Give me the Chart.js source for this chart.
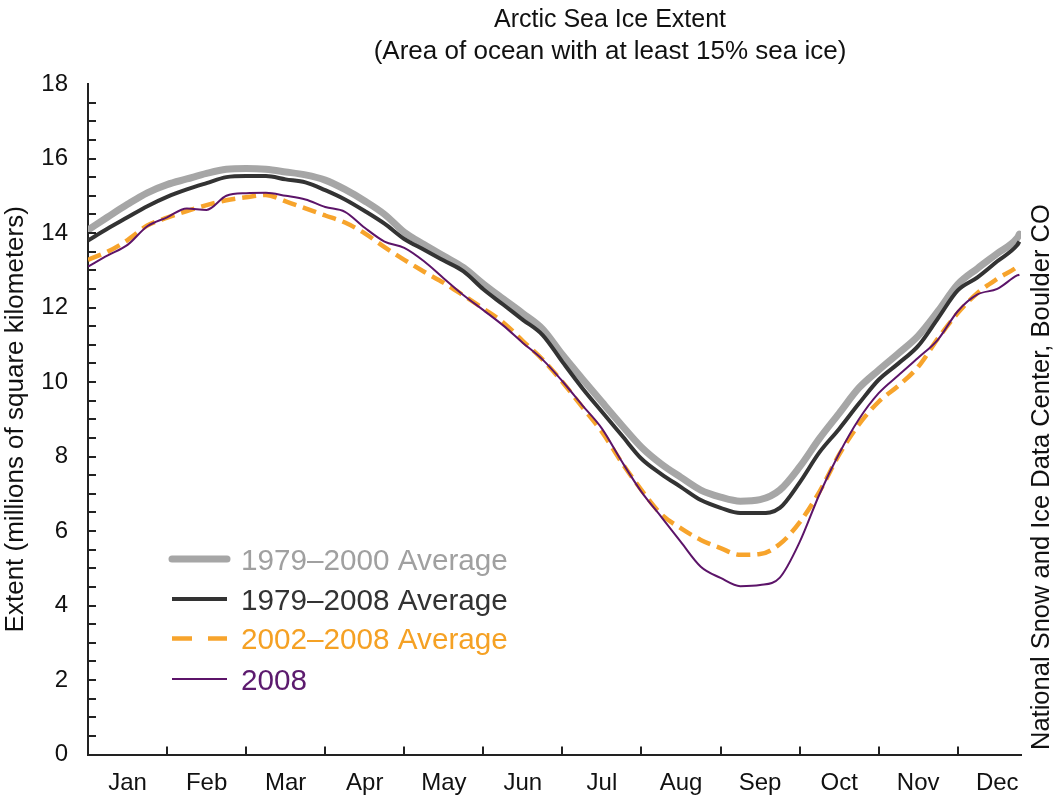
<!DOCTYPE html>
<html>
<head>
<meta charset="utf-8">
<title>Arctic Sea Ice Extent</title>
<script src="https://cdn.jsdelivr.net/npm/chart.js@4.4.1/dist/chart.umd.min.js"></script>
<style>
    html, body { margin: 0; padding: 0; background: #fff; }
    #wrap { width: 1055px; height: 800px; }
</style>
</head>
<body>
<div id="wrap"><canvas id="iceChart" width="1055" height="800"></canvas></div>
<script>
// Position along the year, in months (0 = 1 Jan, every month drawn the same width)
const monthPos = [0, 0.25, 0.5, 0.75, 1, 1.25, 1.5, 1.75, 2, 2.25, 2.5, 2.75,
    3, 3.25, 3.5, 3.75, 4, 4.25, 4.5, 4.75, 5, 5.25, 5.5, 5.75,
    6, 6.25, 6.5, 6.75, 7, 7.25, 7.5, 7.75, 8, 8.25, 8.5, 8.75,
    9, 9.25, 9.5, 9.75, 10, 10.25, 10.5, 10.75, 11, 11.25, 11.5, 11.75, 11.78];

// Extent, millions of km²
const avg1979to2000 = [14.08, 14.43, 14.77, 15.08, 15.3, 15.45, 15.6, 15.71, 15.73, 15.71, 15.64, 15.56,
    15.42, 15.17, 14.86, 14.5, 14.02, 13.69, 13.38, 13.07, 12.63, 12.23, 11.84, 11.42,
    10.73, 10.09, 9.46, 8.84, 8.25, 7.8, 7.44, 7.1, 6.91, 6.8, 6.84, 7.1,
    7.72, 8.48, 9.16, 9.84, 10.32, 10.77, 11.24, 11.9, 12.62, 13.05, 13.45, 13.86, 13.97];
const avg1979to2008 = [13.8, 14.12, 14.42, 14.72, 14.97, 15.17, 15.34, 15.5, 15.53, 15.53, 15.44, 15.36,
    15.15, 14.9, 14.59, 14.25, 13.84, 13.55, 13.26, 12.97, 12.49, 12.08, 11.67, 11.26,
    10.54, 9.84, 9.2, 8.57, 7.94, 7.53, 7.18, 6.83, 6.62, 6.48, 6.48, 6.62,
    7.3, 8.11, 8.74, 9.42, 10.06, 10.5, 10.97, 11.71, 12.46, 12.81, 13.24, 13.67, 13.77];
const avg2002to2008 = [13.28, 13.5, 13.81, 14.2, 14.41, 14.59, 14.75, 14.88, 14.96, 15.02, 14.85, 14.66,
    14.47, 14.28, 13.99, 13.62, 13.28, 12.96, 12.66, 12.32, 11.97, 11.6, 11.1, 10.6,
    10.0, 9.33, 8.66, 7.84, 7.1, 6.45, 6.07, 5.76, 5.54, 5.36, 5.38, 5.65,
    6.23, 7.05, 8.05, 8.86, 9.47, 9.9, 10.41, 11.17, 11.85, 12.39, 12.77, 13.09, 13.15];
const year2008 = [13.1, 13.4, 13.68, 14.18, 14.42, 14.66, 14.62, 15.0, 15.07, 15.08, 15.0, 14.9,
    14.7, 14.57, 14.14, 13.77, 13.6, 13.24, 12.78, 12.33, 11.93, 11.52, 11.05, 10.6,
    10.02, 9.38, 8.75, 7.87, 7.05, 6.38, 5.7, 5.04, 4.74, 4.52, 4.55, 4.75,
    5.7, 6.98, 8.08, 9.0, 9.7, 10.18, 10.65, 11.14, 11.9, 12.35, 12.5, 12.86, 12.88];

const monthLabels = ['Jan', 'Feb', 'Mar', 'Apr', 'May', 'Jun', 'Jul', 'Aug', 'Sep', 'Oct', 'Nov', 'Dec'];
const FONT = '"Liberation Sans", Arial, Helvetica, sans-serif';

const toPoints = values => values.map((v, i) => ({ x: monthPos[i], y: v }));

// Inward tick marks, titles, side credit and the legend inside the plot
const decorations = {
    id: 'decorations',
    afterDraw(chart) {
        const { ctx, chartArea, scales: { x, y } } = chart;
        ctx.save();

        // ticks pointing into the plot
        ctx.strokeStyle = '#222';
        ctx.lineWidth = 2;
        ctx.beginPath();
        for (let v = 0.5; v < 18; v += 0.5) {
            const py = Math.round(y.getPixelForValue(v));
            ctx.moveTo(chartArea.left, py);
            ctx.lineTo(chartArea.left + 8, py);
        }
        for (let m = 1; m < 12; m++) {
            const px = Math.round(x.getPixelForValue(m));
            ctx.moveTo(px, chartArea.bottom);
            ctx.lineTo(px, chartArea.bottom - 8);
        }
        ctx.stroke();

        // titles
        const cx = 610;
        ctx.fillStyle = '#111';
        ctx.textAlign = 'center';
        ctx.textBaseline = 'alphabetic';
        ctx.font = '25px ' + FONT;
        ctx.fillText('Arctic Sea Ice Extent', cx, 27);
        ctx.font = '26px ' + FONT;
        ctx.fillText('(Area of ocean with at least 15% sea ice)', cx, 59);

        // y axis title
        ctx.save();
        ctx.translate(23, (chartArea.top + chartArea.bottom) / 2);
        ctx.rotate(-Math.PI / 2);
        ctx.font = '26px ' + FONT;
        ctx.fillText('Extent (millions of square kilometers)', 0, 0);
        ctx.restore();

        // credit on the right
        ctx.save();
        ctx.translate(1049, 750);
        ctx.rotate(-Math.PI / 2);
        ctx.textAlign = 'left';
        ctx.font = '25.5px ' + FONT;
        ctx.fillText('National Snow and Ice Data Center, Boulder CO', 0, 0);
        ctx.restore();

        // legend
        const rows = [559, 599, 638.5, 679];
        ctx.font = '29.7px ' + FONT;
        ctx.textAlign = 'left';
        chart.data.datasets.forEach((ds, i) => {
            const ly = rows[i];
            ctx.beginPath();
            ctx.strokeStyle = ds.borderColor;
            ctx.lineWidth = ds.borderWidth;
            ctx.lineCap = ds.legendCap || 'butt';
            ctx.setLineDash(ds.legendDash || []);
            ctx.moveTo(172, ly);
            ctx.lineTo(227, ly);
            ctx.stroke();
            ctx.setLineDash([]);
            ctx.fillStyle = ds.textColor;
            ctx.fillText(ds.label, 241, ly + 10.5);
        });

        ctx.restore();
    }
};

new Chart(document.getElementById('iceChart'), {
    type: 'line',
    data: {
        datasets: [
            {
                label: '1979–2000 Average',
                data: toPoints(avg1979to2000),
                borderColor: '#a6a6a6',
                textColor: '#a0a0a0',
                borderWidth: 7,
                borderCapStyle: 'round',
                legendCap: 'round',
                order: 4
            },
            {
                label: '1979–2008 Average',
                data: toPoints(avg1979to2008),
                borderColor: '#333333',
                textColor: '#333333',
                borderWidth: 4,
                order: 3
            },
            {
                label: '2002–2008 Average',
                data: toPoints(avg2002to2008),
                borderColor: '#f7a42c',
                textColor: '#f5a124',
                borderWidth: 4.5,
                borderDash: [14, 7],
                legendDash: [20, 16],
                order: 2
            },
            {
                label: '2008',
                data: toPoints(year2008),
                borderColor: '#5c1469',
                textColor: '#5c1a6e',
                borderWidth: 2,
                order: 1
            }
        ]
    },
    options: {
        responsive: false,
        animation: false,
        layout: { padding: { top: 84, right: 34, left: 0, bottom: 0 } },
        elements: {
            point: { radius: 0 },
            line: { tension: 0, cubicInterpolationMode: 'monotone', fill: false }
        },
        plugins: {
            legend: { display: false },
            tooltip: { enabled: false }
        },
        scales: {
            x: {
                type: 'linear',
                min: 0,
                max: 11.8,
                afterFit: scale => { scale.height = 45.5; },
                afterBuildTicks: scale => {
                    scale.ticks = monthLabels.map((_, i) => ({ value: i + 0.5 }));
                },
                ticks: {
                    autoSkip: false,
                    maxRotation: 0,
                    padding: 14,
                    color: '#111',
                    font: { family: FONT, size: 24 },
                    callback: (value, index) => monthLabels[index]
                },
                grid: { display: false, drawTicks: false },
                border: { display: true, color: '#222', width: 2 }
            },
            y: {
                min: 0,
                max: 18,
                afterFit: scale => { scale.width = 88; },
                ticks: {
                    stepSize: 2,
                    padding: 20,
                    color: '#111',
                    font: { family: FONT, size: 24 }
                },
                grid: { display: false, drawTicks: false },
                border: { display: true, color: '#222', width: 2 }
            }
        }
    },
    plugins: [decorations]
});
</script>
</body>
</html>
